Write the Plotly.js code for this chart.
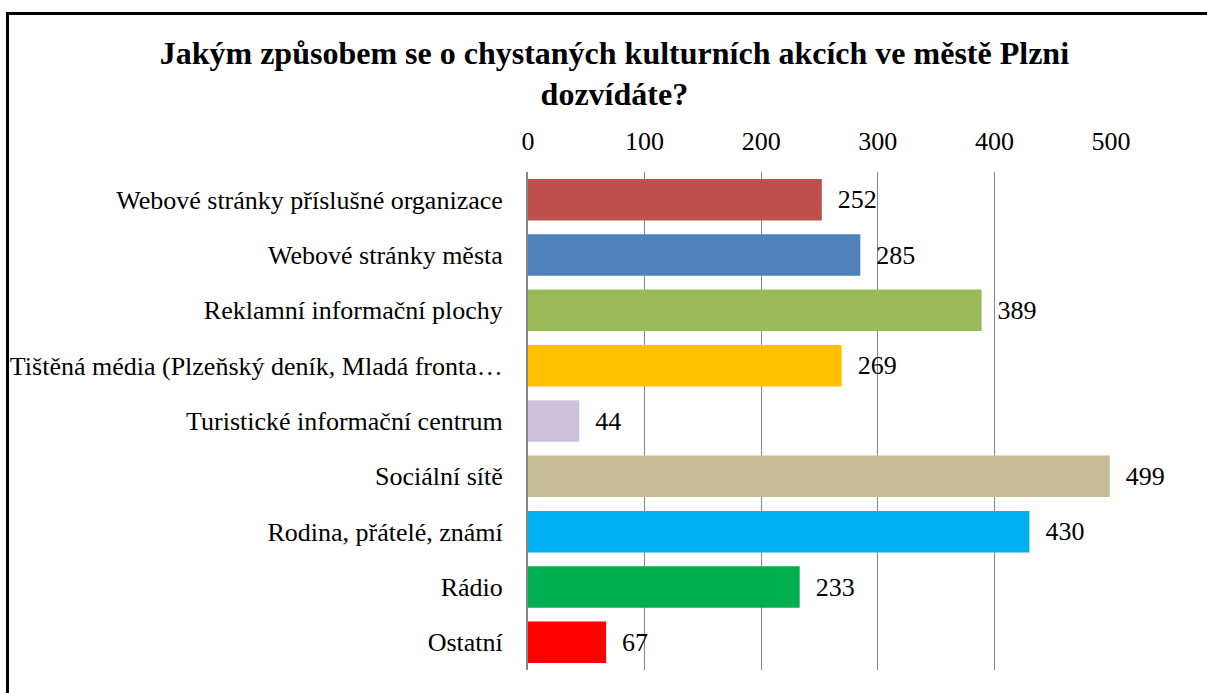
<!DOCTYPE html>
<html>
<head>
<meta charset="utf-8">
<script src="https://cdn.plot.ly/plotly-3.0.1.min.js"></script>
<style>
  html, body { margin: 0; padding: 0; background: #fff; overflow: hidden; }
  #chart { width: 1207px; height: 693px; }
  #frame { position: absolute; left: 6px; top: 12px; width: 1400px; height: 1000px;
           border-top: 3px solid #000; border-left: 3px solid #000; pointer-events: none; }
</style>
</head>
<body>
<div id="chart"></div>
<div id="frame"></div>
<script>
const categories = [
  "Webové stránky příslušné organizace",
  "Webové stránky města",
  "Reklamní informační plochy",
  "Tištěná média (Plzeňský deník, Mladá fronta…",
  "Turistické informační centrum",
  "Sociální sítě",
  "Rodina, přátelé, známí",
  "Rádio",
  "Ostatní"
];
const values = [252, 285, 389, 269, 44, 499, 430, 233, 67];
const barColors = ["#C0504D", "#4F81BD", "#9BBB59", "#FFC000", "#CCC0DA", "#C4BD97", "#00B0F0", "#00B050", "#FF0000"];
const tickValues = [0, 100, 200, 300, 400, 500];
const titleText = "Jakým způsobem se o chystaných kulturních akcích ve městě Plzni<br>dozvídáte?";

const serif = "Liberation Serif, Times New Roman, serif";

const trace = {
  type: "bar",
  orientation: "h",
  y: categories,
  x: values,
  marker: { color: barColors, line: { width: 0 } },
  text: values.map(v => "\u2002" + v),
  textposition: "outside",
  textfont: { family: serif, size: 26, color: "#000" },
  cliponaxis: false,
  hoverinfo: "x+y"
};

const layout = {
  width: 1207,
  height: 693,
  paper_bgcolor: "#fff",
  plot_bgcolor: "#fff",
  margin: { l: 528, r: 96, t: 172, b: 23 },
  bargap: 0.25,
  showlegend: false,
  font: { family: serif, size: 26, color: "#000" },
  title: {
    text: titleText,
    font: { family: serif, size: 32, color: "#000", weight: "bold" },
    x: 0.509, xanchor: "center",
    y: 0.908, yanchor: "top",
    xref: "container", yref: "container"
  },
  xaxis: {
    side: "top",
    range: [0, 500],
    tickvals: tickValues,
    ticktext: tickValues.map(String),
    showgrid: true,
    gridcolor: "#868686",
    gridwidth: 1.3,
    zeroline: false,
    showline: false,
    ticks: "",
    ticklabelstandoff: 16,
    tickfont: { family: serif, size: 26, color: "#000" },
    fixedrange: true
  },
  yaxis: {
    type: "category",
    autorange: "reversed",
    showline: true,
    linecolor: "#868686",
    linewidth: 2,
    showgrid: false,
    zeroline: false,
    ticks: "",
    ticklabelstandoff: 18,
    tickfont: { family: serif, size: 26, color: "#000" },
    fixedrange: true
  }
};

Plotly.newPlot("chart", [trace], layout, { displayModeBar: false, staticPlot: true });
</script>
</body>
</html>
